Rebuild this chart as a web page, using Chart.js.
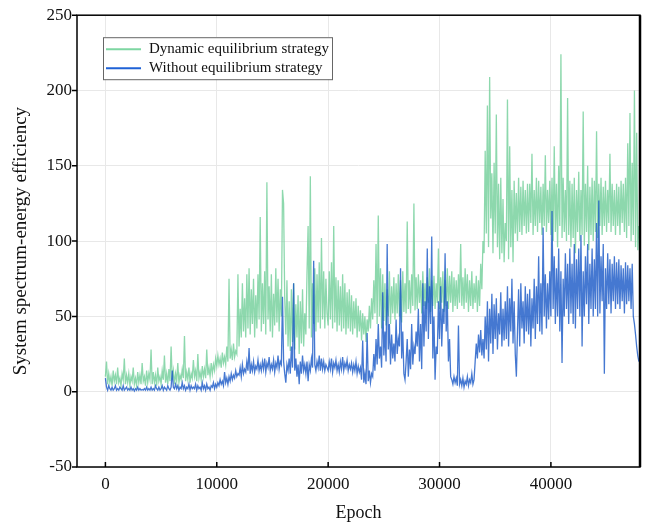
<!DOCTYPE html>
<html>
<head>
<meta charset="utf-8">
<script src="https://cdn.jsdelivr.net/npm/chart.js@4.4.1/dist/chart.umd.min.js"></script>
<style>
  html, body { margin: 0; padding: 0; background: #fff; }
  #wrap { width: 651px; height: 527px; }
</style>
</head>
<body>
<div id="wrap"><canvas id="chart" width="651" height="527"></canvas></div>
<script>
// values, one every 100 epochs (20 per row = 2000 epochs)
const dynamic = [
    10, 20, 5, 12, 6, 10, 4, 14, 7, 11, 5, 16, 6, 9, 4, 12, 8, 22, 5, 11,
    6, 12, 4, 10, 7, 16, 5, 9, 4, 13, 6, 11, 5, 19, 7, 10, 4, 14, 6, 12,
    8, 28, 5, 13, 6, 11, 4, 16, 7, 10, 5, 14, 8, 24, 6, 12, 5, 15, 7, 30,
    8, 14, 5, 12, 7, 19, 6, 11, 8, 15, 9, 37, 7, 13, 8, 16, 6, 12, 9, 21,
    10, 14, 7, 25, 9, 13, 8, 17, 10, 15, 9, 28, 11, 16, 10, 19, 12, 18, 14, 22,
    17, 24, 18, 22, 16, 26, 19, 23, 18, 30, 20, 75, 22, 28, 21, 32, 23, 27, 25, 78,
    30, 55, 36, 72, 40, 62, 36, 78, 42, 82, 38, 68, 45, 75, 36, 64, 42, 78, 48, 116,
    40, 72, 45, 80, 38, 139, 48, 70, 40, 78, 36, 65, 44, 82, 46, 75, 40, 68, 50, 134,
    125, 62, 38, 74, 30, 60, 27, 68, 33, 72, 28, 58, 36, 64, 25, 60, 32, 68, 30, 52,
    38, 78, 110, 42, 143, 36, 72, 45, 82, 40, 78, 46, 86, 42, 102, 48, 80, 42, 75, 52,
    44, 80, 48, 86, 42, 110, 46, 76, 40, 74, 44, 70, 40, 78, 42, 72, 38, 66, 42, 68,
    40, 64, 38, 60, 42, 62, 36, 57, 40, 54, 34, 52, 38, 50, 33, 48, 40, 57, 42, 62,
    48, 74, 52, 98, 45, 117, 50, 82, 42, 78, 47, 72, 44, 68, 50, 80, 45, 70, 52, 76,
    48, 72, 52, 78, 50, 74, 46, 80, 53, 72, 52, 113, 55, 74, 52, 78, 57, 125, 54, 76,
    55, 78, 59, 74, 52, 80, 57, 72, 55, 76, 59, 82, 53, 74, 57, 77, 55, 72, 59, 95,
    55, 76, 59, 80, 53, 74, 57, 82, 55, 77, 59, 80, 53, 76, 57, 74, 55, 78, 59, 98,
    57, 76, 55, 82, 59, 78, 53, 74, 57, 80, 55, 72, 59, 77, 53, 74, 57, 85, 68, 100,
    92, 160, 105, 190, 96, 209, 115, 145, 92, 152, 105, 184, 96, 138, 88, 142, 92, 128, 86, 112,
    100, 194, 88, 163, 96, 134, 86, 140, 105, 132, 100, 142, 106, 136, 104, 140, 110, 134, 105, 138,
    106, 138, 112, 158, 104, 134, 110, 142, 106, 140, 112, 136, 104, 138, 110, 157, 106, 134, 112, 140,
    104, 142, 100, 163, 106, 138, 96, 150, 110, 224, 102, 142, 106, 134, 100, 195, 104, 140, 96, 138,
    102, 142, 92, 134, 106, 146, 100, 134, 104, 186, 97, 138, 106, 150, 94, 136, 104, 142, 100, 140,
    106, 173, 102, 138, 110, 142, 104, 136, 110, 140, 106, 134, 112, 158, 106, 138, 110, 134, 104, 138,
    110, 136, 104, 140, 112, 138, 106, 142, 102, 165, 110, 185, 100, 152, 104, 200, 96, 172, 94, 110
];
const without = [
    9, 3, 1, 4, 2, 1, 3, 1, 2, 4, 1, 2, 1, 3, 2, 1, 4, 1, 2, 3,
    1, 2, 1, 3, 1, 2, 0.5, 2, 1, 3, 1, 2, 1, 1.5, 1, 2, 1, 3, 1, 2,
    1, 3, 1, 2, 1, 4, 2, 1, 3, 1, 2, 4, 1, 3, 2, 1, 4, 2, 1, 3,
    14, 3, 2, 5, 2, 4, 1, 3, 2, 6, 2, 4, 1, 3, 2, 5, 1, 4, 2, 3,
    2, 5, 1, 4, 2, 3, 1, 6, 2, 4, 1, 5, 2, 3, 1, 4, 3, 6, 2, 5,
    3, 6, 4, 8, 5, 7, 4, 13, 6, 9, 5, 10, 7, 12, 8, 11, 9, 14, 10, 12,
    11, 16, 10, 18, 12, 15, 13, 20, 14, 29, 12, 18, 14, 20, 13, 17, 15, 21, 14, 18,
    14, 20, 15, 22, 13, 19, 16, 23, 14, 18, 15, 21, 13, 19, 16, 24, 15, 20, 18, 63,
    20, 12, 6, 18, 14, 22, 12, 30, 16, 72, 14, 22, 10, 18, 5, 20, 12, 24, 14, 18,
    12, 20, 7, 18, 14, 22, 16, 87, 18, 14, 20, 16, 24, 14, 22, 15, 20, 14, 18, 16,
    14, 20, 15, 22, 13, 19, 16, 21, 14, 18, 13, 20, 15, 23, 14, 19, 16, 21, 14, 18,
    15, 19, 13, 18, 14, 20, 12, 17, 13, 16, 8, 34, 6, 12, 5, 39, 7, 14, 6, 12,
    10, 25, 14, 35, 18, 45, 22, 30, 16, 66, 24, 40, 20, 98, 28, 45, 18, 38, 22, 32,
    20, 48, 25, 35, 30, 82, 22, 40, 12, 8, 20, 35, 10, 28, 15, 45, 18, 30, 25, 40,
    30, 55, 20, 45, 15, 72, 30, 60, 40, 95, 35, 70, 45, 103, 22, 50, 8, 30, 25, 60,
    35, 70, 30, 55, 45, 92, 40, 60, 20, 35, 10, 8, 5, 10, 6, 9, 4, 44, 5, 8,
    4, 9, 3, 7, 5, 10, 4, 8, 6, 12, 5, 8, 20, 32, 22, 38, 26, 41, 24, 35,
    22, 50, 28, 60, 20, 55, 32, 65, 25, 58, 35, 62, 28, 52, 38, 66, 30, 55, 34, 60,
    35, 70, 30, 62, 40, 75, 32, 60, 25, 10, 40, 68, 30, 72, 42, 60, 32, 70, 40, 65,
    38, 68, 30, 62, 42, 75, 35, 70, 45, 90, 40, 72, 38, 109, 50, 78, 42, 72, 48, 80,
    50, 120, 55, 90, 45, 82, 50, 95, 40, 80, 19, 75, 50, 92, 55, 85, 45, 95, 52, 85,
    45, 98, 42, 88, 55, 95, 50, 104, 30, 80, 50, 90, 58, 98, 45, 85, 55, 95, 50, 88,
    55, 112, 50, 127, 52, 90, 60, 98, 12, 82, 55, 92, 58, 88, 52, 85, 60, 90, 55, 86,
    58, 88, 55, 84, 60, 82, 52, 86, 58, 84, 60, 82, 55, 85, 50, 45, 38, 30, 24, 20
];
const epochStep = 100;
const epochs = dynamic.map((_, i) => i * epochStep);
const xTicks = [0, 10000, 20000, 30000, 40000];
const yTicks = [-50, 0, 50, 100, 150, 200, 250];

const greenColor = "rgba(112, 206, 152, 0.8)";
const blueColor = "rgba(22, 86, 198, 0.8)";
const serif = "'Liberation Serif', 'Times New Roman', serif";

// frame, ticks and in-plot legend
const framePlugin = {
    id: "frame",
    afterDraw(chart) {
        const { ctx, chartArea: a, scales } = chart;
        ctx.save();
        ctx.strokeStyle = "#000";
        ctx.lineWidth = 1.5;
        ctx.strokeRect(a.left, a.top, a.right - a.left, a.bottom - a.top);
        ctx.lineWidth = 2.5;
        ctx.beginPath();
        ctx.moveTo(a.right, a.top);
        ctx.lineTo(a.right, a.bottom);
        ctx.stroke();
        ctx.lineWidth = 1.5;
        ctx.beginPath();
        yTicks.forEach((v) => {
            const y = scales.y.getPixelForValue(v);
            ctx.moveTo(a.left - 5, y);
            ctx.lineTo(a.left, y);
        });
        xTicks.forEach((v) => {
            const x = scales.x.getPixelForValue(v);
            ctx.moveTo(x, a.bottom);
            ctx.lineTo(x, a.bottom - 5);
        });
        ctx.stroke();

        // legend
        const lx = a.left + 26, ly = a.top + 22;
        ctx.fillStyle = "#fff";
        ctx.fillRect(lx, ly, 229, 42);
        ctx.strokeStyle = "#666";
        ctx.lineWidth = 1;
        ctx.strokeRect(lx + 0.5, ly + 0.5, 229, 42);
        ctx.font = "15px " + serif;
        ctx.textBaseline = "middle";
        chart.data.datasets.forEach((ds, i) => {
            const y = ly + 12 + i * 19;
            ctx.strokeStyle = ds.legendColor;
            ctx.lineWidth = 2;
            ctx.beginPath();
            ctx.moveTo(lx + 3, y);
            ctx.lineTo(lx + 38, y);
            ctx.stroke();
            ctx.fillStyle = "#111";
            ctx.fillText(ds.label, lx + 46, y);
        });
        ctx.restore();
    }
};

new Chart(document.getElementById("chart"), {
    type: "line",
    data: {
        datasets: [
            {
                label: "Dynamic equilibrium strategy",
                data: dynamic.map((y, i) => ({ x: epochs[i], y })),
                borderColor: greenColor,
                legendColor: "#7ed6a2",
                borderWidth: 1.3,
                pointRadius: 0,
                tension: 0,
                order: 2
            },
            {
                label: "Without equilibrium strategy",
                data: without.map((y, i) => ({ x: epochs[i], y })),
                borderColor: blueColor,
                legendColor: "#1f62d6",
                borderWidth: 1.3,
                pointRadius: 0,
                tension: 0,
                order: 1
            }
        ]
    },
    options: {
        responsive: false,
        animation: false,
        events: [],
        layout: { padding: { top: 14, right: 11, left: 0, bottom: 0 } },
        plugins: {
            legend: { display: false },
            tooltip: { enabled: false }
        },
        scales: {
            x: {
                type: "linear",
                min: -2550,
                max: 48000,
                afterBuildTicks: (s) => { s.ticks = xTicks.map((value) => ({ value })); },
                afterFit: (s) => { s.height = 60; },
                grid: { color: "#e8e8e8", drawTicks: false },
                border: { display: false },
                ticks: {
                    padding: 7,
                    color: "#111",
                    font: { family: serif, size: 17 },
                    callback: (v) => String(v)
                },
                title: {
                    display: true,
                    text: "Epoch",
                    color: "#111",
                    font: { family: serif, size: 18 },
                    padding: { top: 0, bottom: 3 }
                }
            },
            y: {
                min: -50,
                max: 250,
                afterBuildTicks: (s) => { s.ticks = yTicks.map((value) => ({ value })); },
                afterFit: (s) => { s.width = 77; },
                grid: { color: "#e8e8e8", drawTicks: false },
                border: { display: false },
                ticks: {
                    padding: 5,
                    color: "#111",
                    font: { family: serif, size: 17 },
                    callback: (v) => String(v)
                },
                title: {
                    display: true,
                    text: "System spectrum-energy efficiency",
                    color: "#111",
                    font: { family: serif, size: 19 },
                    padding: { top: 10, bottom: 0 }
                }
            }
        }
    },
    plugins: [framePlugin]
});
</script>
</body>
</html>
